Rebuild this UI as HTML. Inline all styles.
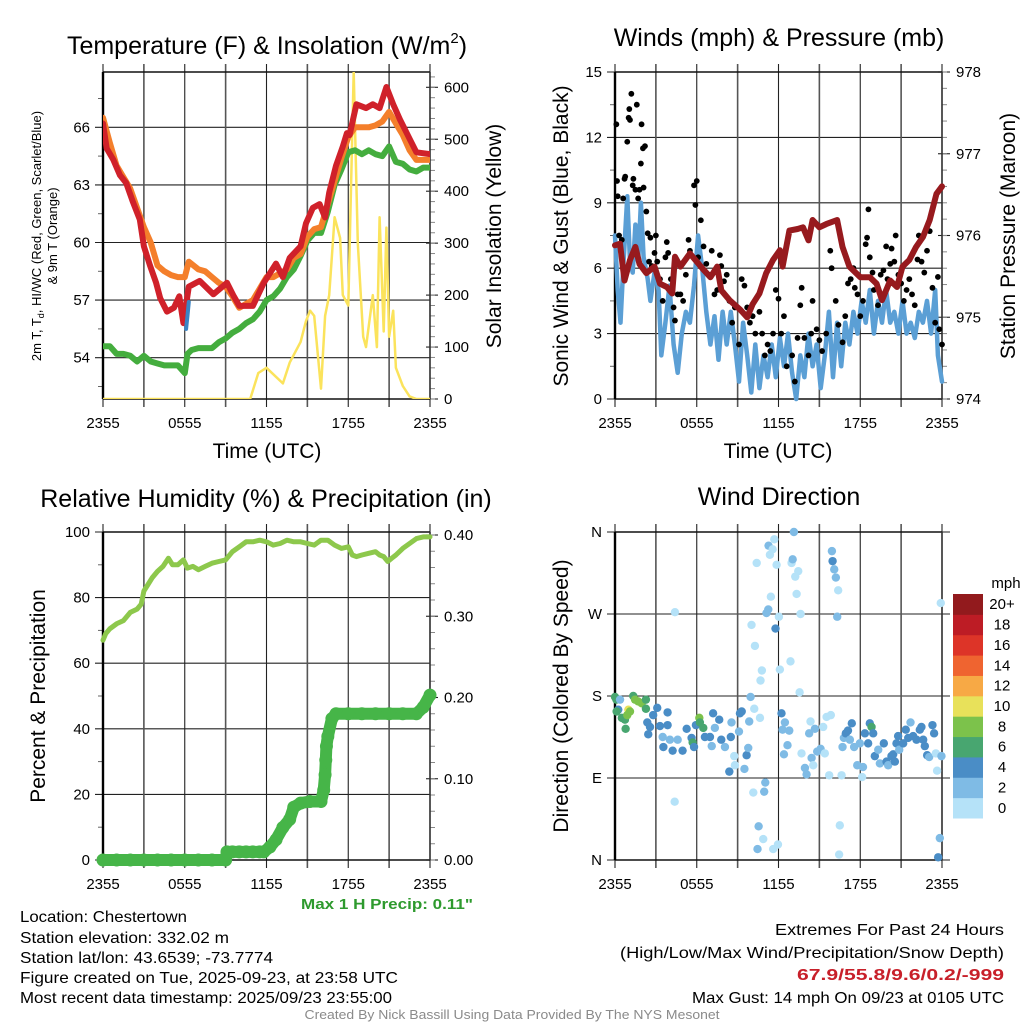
<!DOCTYPE html>
<html><head><meta charset="utf-8"><title>NYS Mesonet Chestertown</title>
<style>
html,body{margin:0;padding:0;background:#fff;}
svg{display:block;font-family:"Liberation Sans",sans-serif;}
.nar{font-family:"Liberation Sans Narrow","Liberation Sans",sans-serif;}
</style></head>
<body>
<svg id="fig" width="1024" height="1024" viewBox="0 0 1024 1024" xmlns="http://www.w3.org/2000/svg">
  <rect x="0" y="0" width="1024" height="1024" fill="#fff"/>
  <!-- Titles -->
  <text x="267" y="54" font-size="25" text-anchor="middle">Temperature (F) &amp; Insolation (W/m<tspan font-size="15" dy="-11">2</tspan><tspan dy="11">)</tspan></text>
  <text x="779" y="46" font-size="25" text-anchor="middle">Winds (mph) &amp; Pressure (mb)</text>
  <text x="266" y="507" font-size="25" text-anchor="middle">Relative Humidity (%) &amp; Precipitation (in)</text>
  <text x="779" y="505" font-size="25" text-anchor="middle">Wind Direction</text>

  <g id="p1"></g>
  <g id="p2"></g>
  <g id="p3"></g>
  <g id="p4"></g>

  <!-- Axis titles -->
  <text x="267" y="458" font-size="21" text-anchor="middle">Time (UTC)</text>
  <text x="778" y="458" font-size="21" text-anchor="middle">Time (UTC)</text>
  <text font-size="13" text-anchor="middle" transform="translate(41,236) rotate(-90)">2m T, T<tspan font-size="9" dy="3">d</tspan><tspan dy="-3">, HI/WC (Red, Green, Scarlet/Blue)</tspan></text>
  <text font-size="13" text-anchor="middle" transform="translate(57,236) rotate(-90)">&amp; 9m T (Orange)</text>
  <text font-size="21" text-anchor="middle" transform="translate(501,236) rotate(-90)">Solar Insolation (Yellow)</text>
  <text font-size="21" text-anchor="middle" transform="translate(568,236) rotate(-90)">Sonic Wind &amp; Gust (Blue, Black)</text>
  <text font-size="21" text-anchor="middle" transform="translate(1015,236) rotate(-90)">Station Pressure (Maroon)</text>
  <text font-size="21" text-anchor="middle" transform="translate(45,696) rotate(-90)">Percent &amp; Precipitation</text>
  <text font-size="21" text-anchor="middle" transform="translate(568,696) rotate(-90)">Direction (Colored By Speed)</text>

  <!-- Colorbar -->
  <g id="cbar"></g>
  <text x="1006" y="588" font-size="15" text-anchor="middle">mph</text>

  <!-- Footer text -->
  <text class="nar" x="301" y="909" font-size="15" font-weight="bold" fill="#2e9a2e" textLength="172" lengthAdjust="spacingAndGlyphs">Max 1 H Precip: 0.11"</text>
  <g class="nar" font-size="16">
    <text x="20" y="922" textLength="167" lengthAdjust="spacingAndGlyphs">Location: Chestertown</text>
    <text x="20" y="943" textLength="209" lengthAdjust="spacingAndGlyphs">Station elevation: 332.02 m</text>
    <text x="20" y="963" textLength="253" lengthAdjust="spacingAndGlyphs">Station lat/lon: 43.6539; -73.7774</text>
    <text x="20" y="983" textLength="378" lengthAdjust="spacingAndGlyphs">Figure created on Tue, 2025-09-23, at 23:58 UTC</text>
    <text x="20" y="1003" textLength="372" lengthAdjust="spacingAndGlyphs">Most recent data timestamp: 2025/09/23 23:55:00</text>
  </g>
  <g class="nar" font-size="16" text-anchor="end">
    <text x="1004" y="935" textLength="229" lengthAdjust="spacingAndGlyphs">Extremes For Past 24 Hours</text>
    <text x="1004" y="958" textLength="384" lengthAdjust="spacingAndGlyphs">(High/Low/Max Wind/Precipitation/Snow Depth)</text>
    <text x="1004" y="980" fill="#c8202a" font-weight="bold" textLength="207" lengthAdjust="spacingAndGlyphs">67.9/55.8/9.6/0.2/-999</text>
    <text x="1004" y="1003" textLength="312" lengthAdjust="spacingAndGlyphs">Max Gust: 14 mph On 09/23 at 0105 UTC</text>
  </g>
  <text class="nar" x="512" y="1019" font-size="13" fill="#8a8a8a" text-anchor="middle" textLength="415" lengthAdjust="spacingAndGlyphs">Created By Nick Bassill Using Data Provided By The NYS Mesonet</text>
</svg>
<script>
// ===== Data (hours since 2355 UTC) =====
const xTickLabels = ["2355","0555","1155","1755","2355"];
// Temperature panel
const tempT   = [0,0.27,0.76,1.25,1.7,2.2,2.7,3.0,3.45,3.9,4.2,4.7,5.2,5.6,5.9,6.3,7.1,8.1,9.1,9.6,10,11,11.8,12.7,13.2,13.7,14.5,14.9,15.4,15.9,16.3,16.6,17.1,17.6,17.9,18.1,18.6,19.3,19.8,20.3,20.8,21.3,21.8,22.5,23,24];
const temp2m  = [66.2,64.9,64.3,63.5,63.1,62.1,61.2,59.8,58.8,57.9,57.1,56.4,56.6,57.2,55.8,57.7,58.0,57.3,57.9,57.2,56.7,56.7,57.9,58.9,58.2,59.2,59.8,61.0,61.8,62.0,61.3,62.6,64.0,65.0,65.7,65.6,67.2,67.0,67.2,67.0,68.1,67.2,66.4,65.4,64.7,64.6];
const temp9mT = [0,0.5,1,2,3,3.5,4,4.5,5,5.5,6,6.3,7,7.5,8,8.5,9,9.5,10,10.5,11,11.5,12,12.5,13,13.5,14,14.5,15,15.5,16,16.5,17,17.5,18,18.5,19,19.5,20,20.5,21,21.5,22,22.5,23,23.5,24];
const temp9m  = [66.5,65.2,64,62.8,60.8,60,58.8,58.5,58.3,58.2,58.2,59,58.6,58.5,58.2,57.9,57.7,57.2,56.6,56.8,57,57.6,58.2,58.2,58.4,58.6,59.2,59.4,60.3,60.7,60.8,62,63.2,64.4,65.5,66,66,66,66.1,66.3,66.8,66.2,65.6,64.8,64.3,64.3,64.3];
const dewT    = [0,0.5,1,1.5,2,2.5,3,3.5,4,4.5,5,5.5,6,6.2,6.5,7,7.5,8,8.5,9,9.5,10,10.5,11,11.5,12,12.5,13,13.5,14,14.5,15,15.5,16,16.5,17,17.5,18,18.5,19,19.5,20,20.5,21,21.5,22,22.5,23,23.5,24];
const dewpt   = [54.6,54.6,54.2,54.2,54.1,53.8,54.1,53.8,53.7,53.6,53.6,53.6,53.2,54.2,54.4,54.5,54.5,54.5,54.8,55,55.3,55.5,55.8,56,56.4,57,57.2,57.6,58.2,58.6,59.3,60.1,60.5,60.5,61.6,63,63.8,64.7,64.8,64.6,64.8,64.6,64.5,65,64.2,64.1,63.8,63.7,63.9,63.9];
const hiwcT   = [6.1,6.2,6.3];
const hiwc    = [55.5,56.2,56.9];
const solarT  = [0,10.8,11.4,12,13.2,13.7,14.5,14.9,15.2,15.5,16,16.3,16.6,17,17.4,17.6,18,18.4,18.7,19.1,19.3,19.8,20.1,20.3,20.6,20.8,21,21.3,21.5,22,22.5,23,24];
const solar   = [0,0,50,60,30,70,110,150,170,160,20,160,200,350,310,200,180,630,300,120,100,200,100,350,130,330,120,170,60,25,5,0,0];
// Wind panel
const windT = [0,0.2,0.4,0.6,0.9,1.1,1.3,1.5,1.7,1.9,2.1,2.4,2.6,2.9,3.2,3.4,3.7,4,4.3,4.6,4.9,5.2,5.5,5.8,6.1,6.4,6.7,7,7.3,7.6,7.9,8.2,8.5,8.8,9.1,9.4,9.7,10,10.3,10.6,10.9,11.2,11.5,11.8,12.1,12.4,12.7,13,13.3,13.6,13.9,14.2,14.5,14.8,15.1,15.4,15.7,16,16.3,16.6,16.9,17.2,17.5,17.8,18.1,18.4,18.7,19,19.3,19.6,19.9,20.2,20.5,20.8,21.1,21.4,21.7,22,22.3,22.6,22.9,23.2,23.5,23.7,24];
const windSpd = [7.5,5,3.5,6,9.3,6.3,5.8,8,6.3,9,6.5,5.5,4.5,5.8,5,2,3.5,5.2,2.5,1.2,3,4,3.5,5.2,7.5,6,4,2.5,3.8,1.8,4,2.5,4,2.5,0.8,3.5,2,0.3,2.5,0.5,2,1,2.5,1,2.8,1.5,3,1.2,0,2,1,3,1.5,2.5,0.5,2,4,1,3.5,1.5,3.5,2.5,4,3,4.5,3.5,5,3,4.5,3.5,5,3.5,4,3,4.5,3,3.5,2.8,4,3.5,4.5,3,5,2,0.8];
const gustT = [0.1,0.15,0.2,0.3,0.5,0.6,0.7,0.75,0.9,1,1.05,1.1,1.2,1.3,1.35,1.5,1.6,1.7,1.8,1.9,1.95,2.05,2.1,2.2,2.3,2.4,2.5,2.6,2.7,2.9,3,3.1,3.3,3.5,3.7,3.8,3.9,4.1,4.3,4.4,4.6,4.8,5,5.2,5.4,5.5,5.8,5.9,6,6.1,6.3,6.5,6.7,6.9,7.1,7.3,7.5,7.7,7.8,8,8.2,8.4,8.6,8.8,9.1,9.3,9.5,9.7,9.9,10.1,10.3,10.6,10.8,11,11.2,11.4,11.6,11.8,12,12.2,12.4,12.6,13,13.2,13.4,13.6,13.7,13.9,14.2,14.4,14.5,14.8,15,15.2,15.5,15.8,15.9,16.2,16.4,16.7,16.9,17.1,17.3,17.5,17.6,17.8,18,18.2,18.4,18.5,18.6,18.7,18.9,19,19.3,19.5,19.7,19.9,20,20.2,20.3,20.5,20.6,20.8,21,21.2,21.4,21.6,21.8,22,22.2,22.3,22.5,22.7,22.9,23.1,23.3,23.5,23.7,23.8,24];
const gustSpd = [12.6,10,9.3,7.5,7.3,9.2,10.1,10.2,11.8,12.9,13.3,12.8,14,9.8,10.1,9.6,13.5,9.2,9.6,10.8,12.6,11.5,9.7,11.6,8.6,7.6,6.3,7.4,6.1,6.7,7.5,6.3,5.5,4.5,6.5,7.2,6.7,5.5,4.2,3.6,4.8,4.8,4.5,5.7,7.3,6.8,9.8,8.9,10,6.5,8.2,7,6.2,5.7,6.8,4.8,5,6.6,6.1,5.4,5.7,4.5,3.5,4.2,2.5,5.5,5.2,4.2,3.5,3.8,3,4,3,2,2.5,2.2,3,5,4.6,3,3.8,1.5,2,0.8,2.8,4.3,5.1,2.8,2,3,4.5,3.2,2.7,2.2,3,6.8,6,4.5,3.4,2.6,3.8,5.3,5.5,6,5.1,4.8,3.8,4.5,7.1,7.4,8.7,6.5,5.8,5,4.3,5.7,5.9,7,5.5,6.2,6.9,6.3,7.5,5.7,5.3,4.5,5,5.5,4.8,4.3,6.4,7.5,6.3,5.8,6.8,7.7,5.1,3.5,5.6,3.2,2.5];
const presT = [0,0.37,0.7,1.1,1.5,1.8,2.3,2.9,3.3,3.8,4.2,4.4,4.8,5.5,5.9,6.5,7,7.5,7.8,8.4,9.2,9.7,10.1,10.6,11.1,11.6,12.1,12.3,12.8,13.4,13.8,14.2,14.5,15,15.5,16.3,16.7,17.2,18,18.7,19.2,19.6,20.2,20.7,21.1,21.6,22.1,22.6,23.1,23.6,24];
const pres  = [975.88,975.9,975.45,975.7,975.86,975.65,975.54,975.62,975.41,975.37,975.29,975.74,975.62,975.78,975.7,975.58,975.49,975.62,975.33,975.21,975.09,975.0,975.16,975.29,975.54,975.7,975.82,975.62,976.06,976.08,976.1,975.94,976.19,976.1,976.14,976.19,975.86,975.62,975.49,975.49,975.41,975.21,975.45,975.37,975.62,975.7,975.86,975.98,976.19,976.51,976.6];
// Humidity / precip panel
const rhT = [0,0.2,0.5,1,1.5,2,2.5,2.8,3,3.3,3.6,4,4.4,4.8,5.1,5.5,5.9,6.2,6.6,7,7.5,8,8.5,9,9.5,10,10.5,11,11.5,12,12.5,13,13.5,14,14.5,15,15.5,16,16.5,17,17.5,18,18.3,18.6,19,19.5,20,20.3,20.6,20.9,21.2,21.5,22,22.5,23,23.5,24];
const rh  = [67,69,70.5,72,73,75.5,76.5,78,82,84,86,88,89.5,92,90,90,91.5,89,89.5,88.5,89.5,90.5,91,91.5,94,95.5,97,97,97.5,97,96,96.5,97.5,97,97,96.5,96,97.5,97.5,96,95,95.5,93,92.5,93,93.5,94,93,92.5,91,92,93,95,96.5,98,98.5,98.5];
const precipT = [0,1,2,3,4,5,6,7,8,9.0,9.1,9.5,10,10.5,11,11.5,11.8,12.25,12.7,13.2,13.7,14,14.5,15.2,16,16.2,16.3,16.35,16.4,16.5,16.8,17.1,18,19,20,21,22,23,23.5,24];
const precip  = [0,0,0,0,0,0,0,0,0,0,0.01,0.01,0.01,0.01,0.01,0.01,0.01,0.016,0.025,0.04,0.05,0.065,0.07,0.072,0.072,0.086,0.105,0.123,0.14,0.152,0.174,0.18,0.18,0.18,0.18,0.18,0.18,0.18,0.188,0.203];
// Wind direction panel
const dirT = [0,0.1,0.37,0.24,0.12,0.5,0.73,0.78,0.98,0.9,1.1,1.34,1.47,1.7,1.96,2.27,2.27,2.37,2.44,2.57,2.8,3.1,3.3,3.5,3.55,3.86,3.86,4.03,4.23,4.4,4.38,4.6,4.96,5.26,5.62,5.7,5.8,5.94,6.19,6.23,6.48,6.6,6.97,7.1,7.2,7.33,7.65,7.8,8.07,8.39,8.5,8.55,8.75,8.8,9.1,9.17,9.3,9.5,9.66,9.78,9.85,9.95,10.02,10.15,10.22,10.27,10.4,10.46,10.54,10.64,10.68,10.78,10.88,10.95,11.03,11.12,11.25,11.27,11.37,11.44,11.57,11.61,11.69,11.78,11.86,11.96,12.03,12.1,12.22,12.3,12.4,12.47,12.66,12.79,12.88,12.96,13.04,13.13,13.23,13.33,13.45,13.55,13.62,13.69,13.94,14.06,14.25,14.35,14.43,14.55,14.67,14.84,15.09,15.28,15.4,15.53,15.72,15.84,15.92,15.97,16.09,16.21,16.38,16.31,16.5,16.45,16.63,16.7,16.8,16.94,17.1,17.24,17.38,17.55,17.78,17.97,18.14,18.2,18.34,18.58,18.7,18.83,18.95,19.07,19.32,19.44,19.73,19.93,20.05,20.29,20.42,20.54,20.66,20.78,20.86,21.15,21.34,21.52,21.69,21.88,22.13,22.37,22.49,22.62,22.74,22.91,23.06,23.3,23.42,23.55,23.64,23.84,23.72,23.96,23.91];
const dirDeg = [179,176,176,165,163,156,154,144,165,159,163,180,176,174,172,176,166,151,138,146,159,167,147,135,124,162,148,132,120,272,64,132,120,144,134,129,124,148,156,151,145,135,135,125,161,145,154,132,124,97,135,151,114,104,141,161,163,100,115,123,152,179,258,74,166,235,326,12,37,156,197,208,23,75,85,271,275,345,335,289,341,12,352,254,324,17,267,209,161,143,116,151,126,142,218,326,330,360,311,292,317,184,270,117,101,94,139,152,112,104,144,119,122,146,117,157,93,159,339,328,319,310,296,267,38,6,93,124,134,139,142,132,150,124,104,128,91,102,139,128,150,146,139,114,121,106,128,108,104,114,116,108,128,136,121,128,143,134,151,136,132,143,146,132,125,115,113,148,139,117,98,24,3,114,282];
const dirSpd = [7,7,3,5,7,7,7,7,11,9,9,7,9,9,9,7,7,5,5,5,5,5,5,3,5,5,5,3,5,1,1,3,5,5,5,7,5,5,9,7,7,5,5,3,5,3,5,5,3,5,5,3,1,1,3,5,5,3,5,3,3,3,1,1,1,1,1,3,3,1,1,1,1,3,3,3,3,3,1,1,1,1,1,5,1,1,1,1,5,3,3,3,3,3,1,1,3,3,1,1,1,1,1,1,3,3,3,1,3,1,3,3,3,1,1,1,1,1,3,5,3,3,1,3,1,1,1,3,3,5,5,3,5,3,3,3,1,3,5,5,5,7,5,5,3,3,5,5,3,5,5,5,5,5,3,5,5,5,3,5,5,5,5,5,5,5,3,5,5,1,1,3,5,3,1];
const cbarLabels = ["0","2","4","6","8","10","12","14","16","18","20+"];
const cbarColors = ["#b5e2f8","#7fbbe5","#4a8dc6","#48a670","#7cc24b","#e8e15a","#f7a945","#ef6430","#dd3428","#bd1c25","#921a1d"];

// ===== Helpers =====
const NS = "http://www.w3.org/2000/svg";
function mk(parent, tag, attrs){
  const e = document.createElementNS(NS, tag);
  for (const k in attrs) e.setAttribute(k, attrs[k]);
  parent.appendChild(e);
  return e;
}
function scale(d0,d1,r0,r1){ return v => r0 + (v-d0)*(r1-r0)/(d1-d0); }

function frame(g, L, R, T, B, opts){
  const xs = scale(0,24,L,R);
  opts.leftMajor.forEach((v,i)=>{
    const y = opts.ly(v);
    const ln = mk(g,'line',{x1:L-8,x2:R+ (opts.gridExt||0),y1:y,y2:y,stroke:'#222','stroke-width':1.1});
    
    
    const tx = mk(g,'text',{x:L-13,y:y+5,'font-size':15,'text-anchor':'end'});
    tx.textContent = opts.leftLabels[i];
    
    
  });
  (opts.leftMinor||[]).forEach(v=>{
    const y = opts.ly(v);
    mk(g,'line',{x1:L-5,x2:L,y1:y,y2:y,stroke:'#666','stroke-width':1});
  });
  if (opts.rightMajor){
    opts.rightMajor.forEach((v,i)=>{
      const y = opts.ry(v);
      mk(g,'line',{x1:R-4,x2:R+8,y1:y,y2:y,stroke:'#222','stroke-width':1.1});
      const tx = mk(g,'text',{x:R+14,y:y+5,'font-size':15,'text-anchor':'start'});
      tx.textContent = opts.rightLabels[i];
      
      
    });
    (opts.rightMinor||[]).forEach(v=>{
      const y = opts.ry(v);
      mk(g,'line',{x1:R,x2:R+5,y1:y,y2:y,stroke:'#888','stroke-width':1});
    });
  }
  for (let h=0; h<=24; h+=3){
    const x = xs(h);
    const major = (h%6===0);
    const ln = mk(g,'line',{x1:x,x2:x,y1:T-8,y2:B+8,stroke: major?'#222':'#555','stroke-width':major?1.1:1.6});
    
    
  }
  xTickLabels.forEach((lab,i)=>{
    const tx = mk(g,'text',{x:xs(i*6),y:B+29,'font-size':15,'text-anchor':'middle'});
    tx.textContent = lab;
    
    
  });
  mk(g,'line',{x1:L,x2:R,y1:T,y2:T,stroke:'#111','stroke-width':1.4});
  mk(g,'line',{x1:L,x2:R,y1:B,y2:B,stroke:'#111','stroke-width':1.4});
  mk(g,'line',{x1:L,x2:L,y1:T,y2:B,stroke:'#000','stroke-width':2.4});
  mk(g,'line',{x1:R,x2:R,y1:T,y2:B,stroke:'#333','stroke-width':1.6});
  return xs;
}
function line(g, xs, ys, T, V, color, w, name){
  const pts = T.map((t,i)=> xs(t).toFixed(1)+','+ys(V[i]).toFixed(1)).join(' ');
  const p = mk(g,'polyline',{points:pts,fill:'none',stroke:color,'stroke-width':w,'stroke-linejoin':'round','stroke-linecap':'round'});
  
  
  return p;
}
function range(a,b,s){ const r=[]; for(let v=a; v<=b+1e-9; v+=s) r.push(+v.toFixed(4)); return r; }

// ===== Panel 1: Temperature =====
(function(){
  const g = document.getElementById('p1');
  const L=103,R=430,T=72,B=399;
  const ly = scale(54,66,357.7,127.3);
  const ry = scale(0,600,399,87.3);
  const gc = mk(g,'g',{});
  
  
  const xs = frame(gc,L,R,T,B,{ly, leftMajor:[54,57,60,63,66], leftLabels:["54","57","60","63","66"],
    leftMinor:[52.5,55.5,58.5,61.5,64.5,67.5], ry, rightMajor:[0,100,200,300,400,500,600],
    rightLabels:["0","100","200","300","400","500","600"], rightMinor:range(0,620,20)});
  const clip = mk(g,'clipPath',{id:'c1'}); mk(clip,'rect',{x:L,y:T,width:R-L,height:B-T});
  const d = mk(g,'g',{'clip-path':'url(#c1)'});
  line(d,xs,ry,solarT,solar,'#fbe35c',2.5,'solar-insolation-line');
  line(d,xs,ly,dewT,dewpt,'#44ad3e',6,'dewpoint-line');
  line(d,xs,ly,temp9mT,temp9m,'#f47f2b',6,'temp-9m-line');
  line(d,xs,ly,tempT,temp2m,'#d0212a',6,'temp-2m-line');
  line(d,xs,ly,hiwcT,hiwc,'#3b84c4',4,'heat-index-windchill-line');
})();

// ===== Panel 2: Winds =====
(function(){
  const g = document.getElementById('p2');
  const L=615,R=942,T=72,B=399;
  const ly = scale(0,15,B,T);
  const ry = scale(974,978,B,T);
  const gc = mk(g,'g',{});
  
  
  const xs = frame(gc,L,R,T,B,{ly, leftMajor:[0,3,6,9,12,15], leftLabels:["0","3","6","9","12","15"],
    leftMinor:[1.5,4.5,7.5,10.5,13.5], ry, rightMajor:[974,975,976,977,978],
    rightLabels:["974","975","976","977","978"], rightMinor:range(974,978,0.2)});
  const clip = mk(g,'clipPath',{id:'c2'}); mk(clip,'rect',{x:L-3,y:T-3,width:R-L+6,height:B-T+6});
  const d = mk(g,'g',{'clip-path':'url(#c2)'});
  line(d,xs,ly,windT,windSpd,'#5b9fd5',4.5,'sonic-wind-line');
  const gg = mk(d,'g',{});
  
  
  gustT.forEach((t,i)=>{
    const c = mk(gg,'circle',{cx:xs(t),cy:ly(gustSpd[i]),r:2.9,fill:'#000'});
    
    
  });
  line(d,xs,ry,presT,pres,'#971a1e',6,'station-pressure-line');
})();

// ===== Panel 3: Humidity =====
(function(){
  const g = document.getElementById('p3');
  const L=103,R=430,T=532,B=860;
  const ly = scale(0,100,B,T);
  const ry = scale(0,0.4,B,535);
  const gc = mk(g,'g',{});
  
  
  const xs = frame(gc,L,R,T,B,{ly, leftMajor:[0,20,40,60,80,100], leftLabels:["0","20","40","60","80","100"],
    leftMinor:[10,30,50,70,90], ry, rightMajor:[0,0.1,0.2,0.3,0.4],
    rightLabels:["0.00","0.10","0.20","0.30","0.40"], rightMinor:range(0,0.4,0.02)});
  const d = mk(g,'g',{});
  line(d,xs,ly,rhT,rh,'#8dc84c',5,'relative-humidity-line');
  line(d,xs,ry,precipT,precip,'#46b548',12,'precipitation-line');
  precipT.forEach((t,i)=>{
    const c = mk(d,'circle',{cx:xs(t),cy:ry(precip[i]),r:6.5,fill:'#46b548'});
    
    
  });
})();

// ===== Panel 4: Wind direction =====
(function(){
  const g = document.getElementById('p4');
  const L=615,R=942,T=532,B=860;
  const ly = scale(0,360,B,T);
  const gc = mk(g,'g',{});
  
  
  const xs = frame(gc,L,R,T,B,{ly, leftMajor:[0,90,180,270,360], leftLabels:["N","E","S","W","N"], gridExt:8});
  const d = mk(g,'g',{});
  function colorFor(s){ let k=Math.floor(s/2); if(k>10)k=10; if(k<0)k=0; return cbarColors[k]; }
  dirT.forEach((t,i)=>{
    const c = mk(d,'circle',{cx:xs(t),cy:ly(dirDeg[i]),r:4.2,fill:colorFor(dirSpd[i])});
    
    
  });
  const cb = document.getElementById('cbar');
  const top=594, bot=818, n=cbarColors.length, h=(bot-top)/n;
  cbarColors.forEach((col,i)=>{
    const y = bot-(i+1)*h;
    const r = mk(cb,'rect',{x:953,y:y,width:30,height:h+0.5,fill:col});
    
    
    const tx = mk(cb,'text',{x:1002,y:y+h/2+5,'font-size':15,'text-anchor':'middle'});
    tx.textContent = cbarLabels[i];
    
    
  });
})();
</script>
</body></html>
